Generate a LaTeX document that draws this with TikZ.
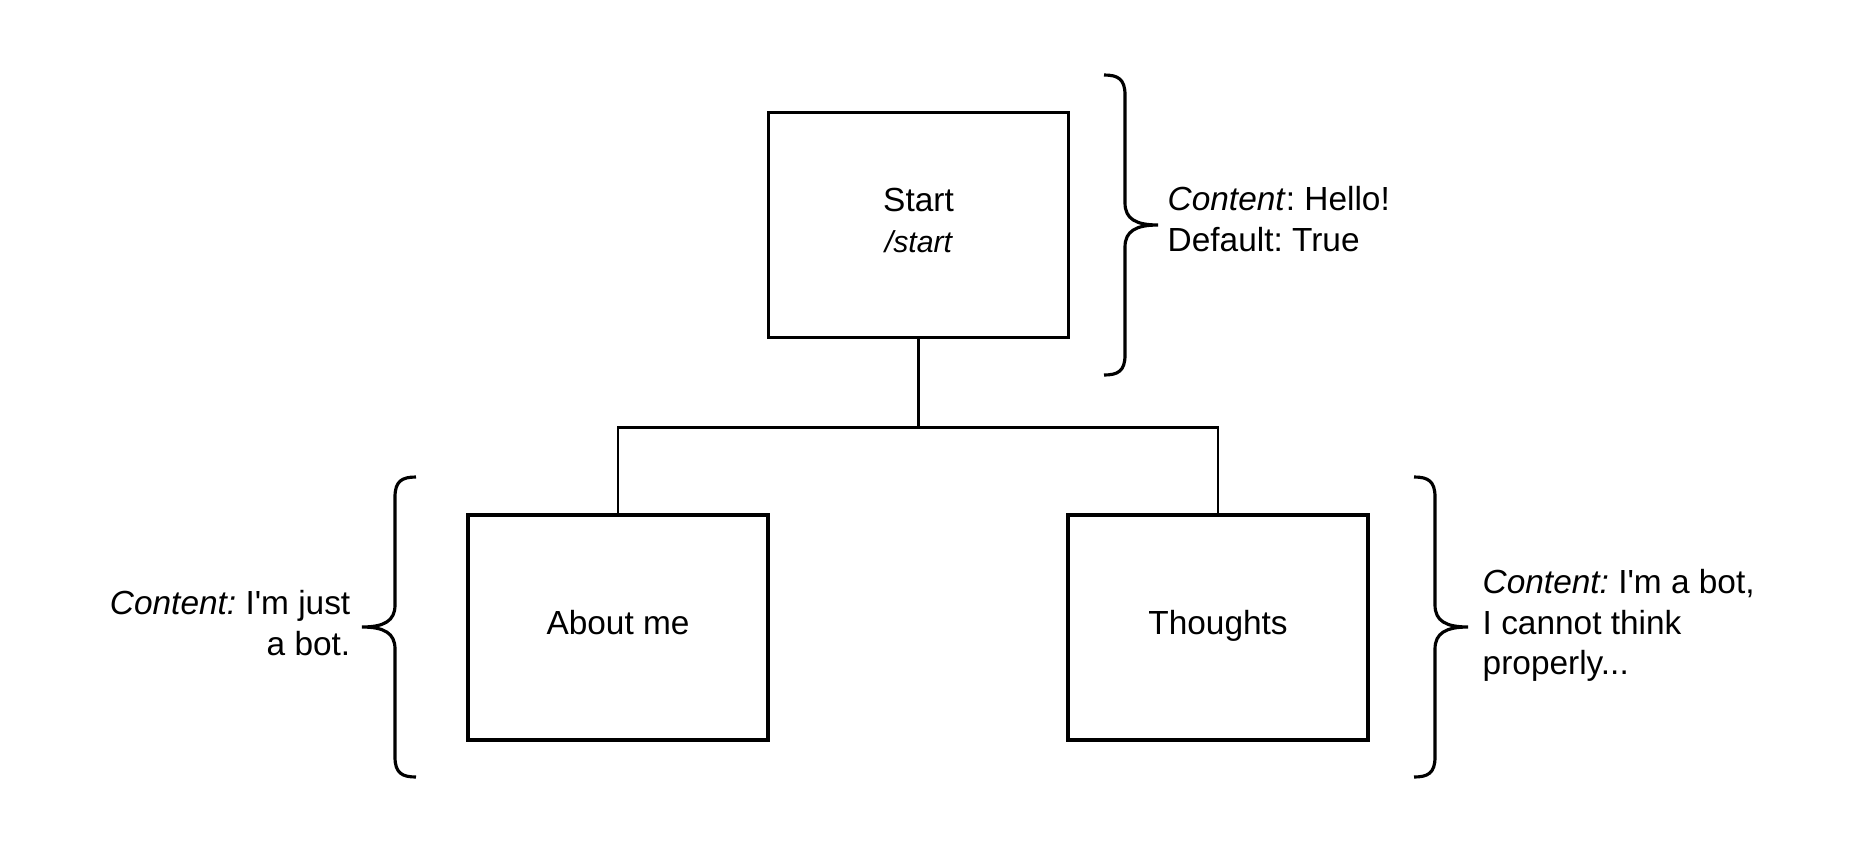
\documentclass[tikz,border=0pt]{standalone}
\usepackage{fontspec}
\setmainfont{Liberation Sans}
\usetikzlibrary{positioning}
\frenchspacing

\tikzset{
  page/.style={draw=black, line width=1pt, minimum width=3cm, minimum height=2.25cm,
    align=center, text depth=2.8pt, font=\fontsize{9.5pt}{11.6pt}\selectfont},
  note/.style={inner sep=0pt, font=\fontsize{9.5pt}{11.6pt}\selectfont},
  link/.style={line width=0.8pt},
  pics/curly/.style={code={
    \draw[line width=0.9pt] (-54,-150) .. controls (-40,-150) and (-33,-146) .. (-33,-130)
      -- (-33,-22) .. controls (-33,-6) and (-22,0) .. (0,0)
      .. controls (-22,0) and (-33,6) .. (-33,22)
      -- (-33,130) .. controls (-33,146) and (-40,150) .. (-54,150);
  }}
}

\begin{document}
\begin{tikzpicture}[x=0.01cm,y=-0.01cm]
\useasboundingbox (0,0) rectangle (1858,851);

% menu tree
\node[page] (start) at (918.5,225) {Start\\{\fontsize{8.6pt}{10pt}\selectfont\itshape /start}};
\node[page] (about) at (618,627.5) {About me};
\node[page] (thoughts) at (1218,627.5) {Thoughts};

\draw[link] (start.south) -- ++(0,88) coordinate (split);
\draw[link] (about.north) |- (split) -| (thoughts.north);

% braces and notes
\pic at (1158,225) {curly};
\pic[xscale=-1] at (362,627) {curly};
\pic at (1468,627) {curly};

\node[note, anchor=west, align=left] (starttxt) at (1167,219) {\textit{Content}: Hello!\\Default: True};
\node[note, anchor=east, align=right] (abouttxt) at (351,623) {\textit{Content:} I\textquotesingle m just\\a bot.};
\node[note, anchor=west, align=left] (thoughtstxt) at (1482,625.5) {\textit{Content:} I\textquotesingle m a bot,\\I cannot think\\properly...};
\end{tikzpicture}
\end{document}
